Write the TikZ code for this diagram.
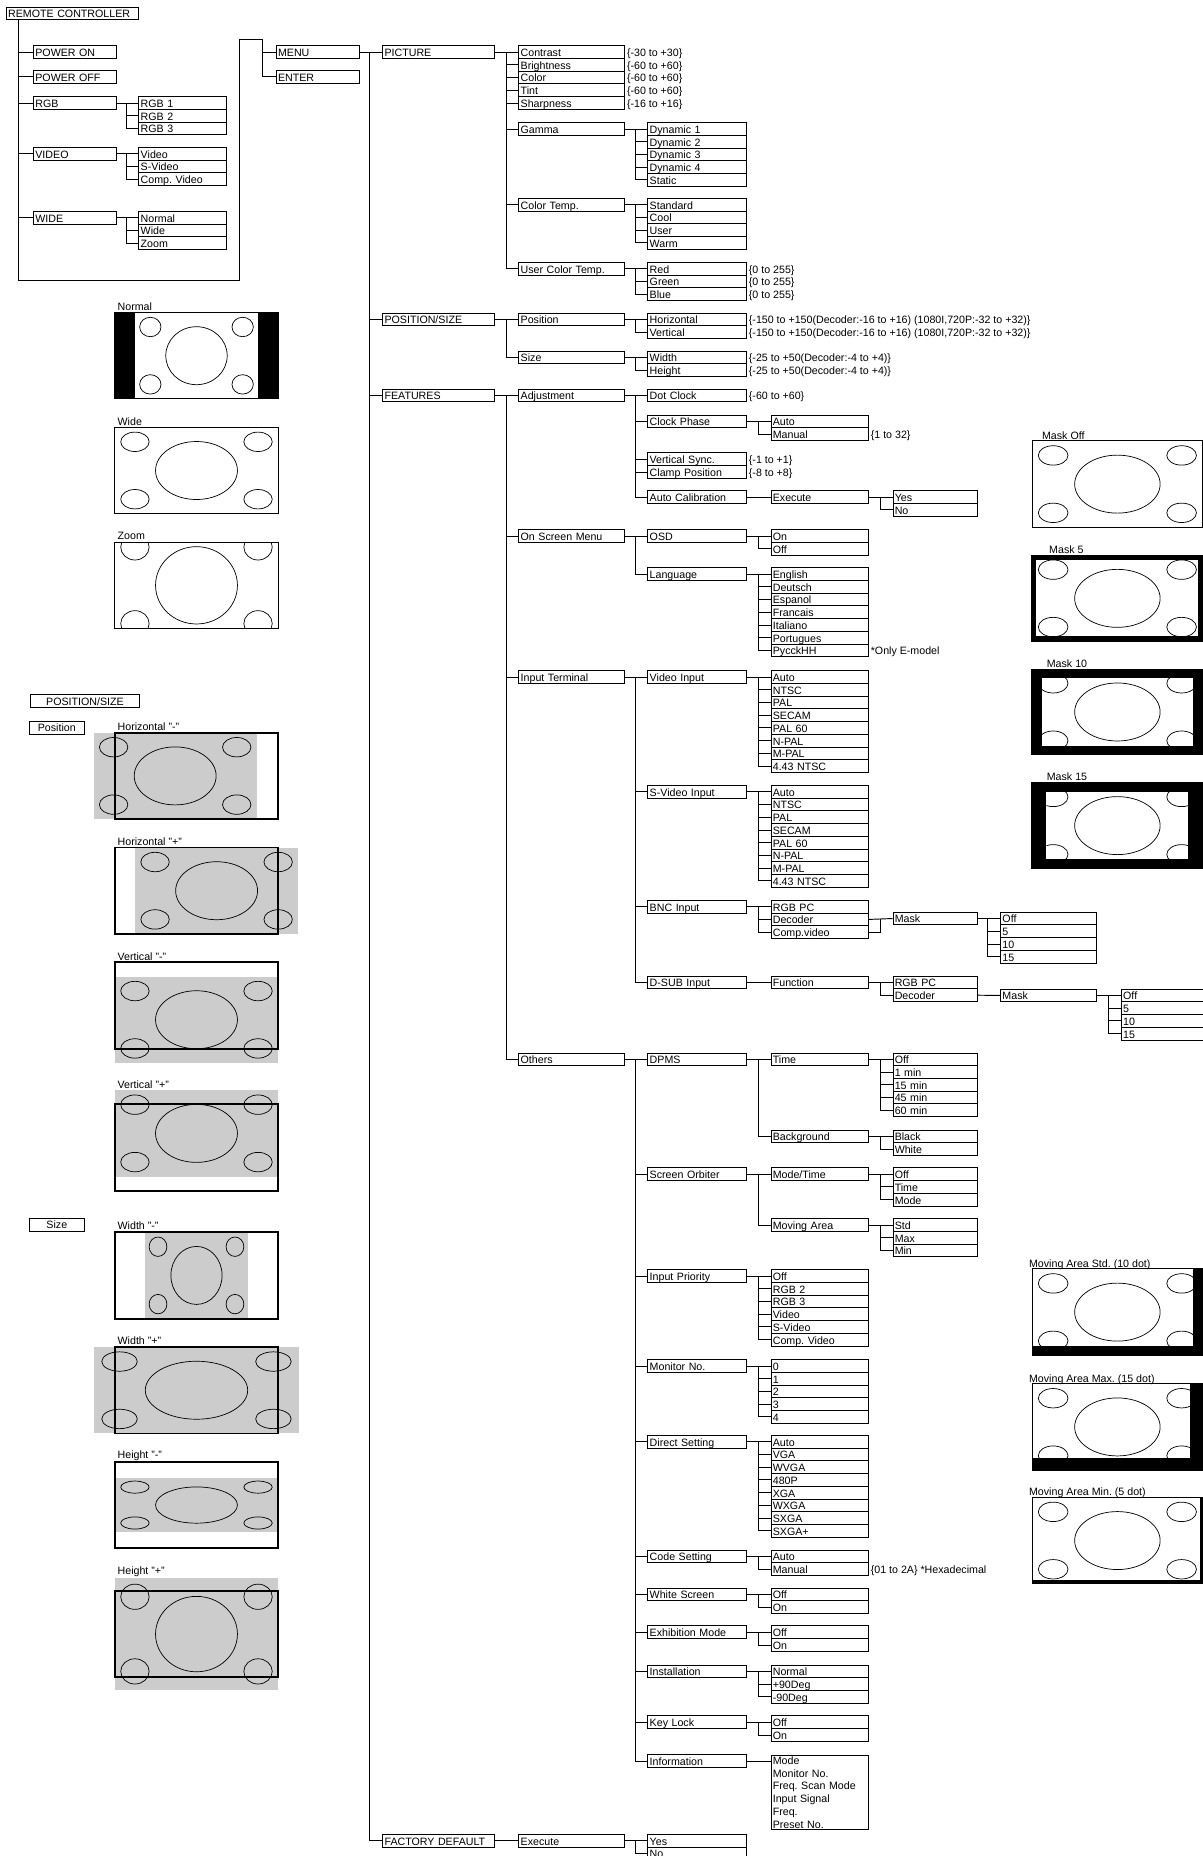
\documentclass[tikz,border=0pt]{standalone}
\usepackage{fontspec}
\setmainfont{Liberation Sans}
\usetikzlibrary{calc}
\frenchspacing

% a column of option boxes, one under the other
\newcommand\optlist[5]{% #1 prefix, #2 column style, #3 x, #4 y of first row, #5 items
  \foreach \lbl [count=\nn] in {#5}
    \node[#2] (#1-\nn) at (#3, {#4+(\nn-1)*10.75}) {\lbl};
}
% parent -> numbered children #2-1 ... #2-#3
\newcommand\forkn[3]{%
  \draw (#1.east) -- (#2-1.west);
  \draw ([xshift=-10.5pt]#2-1.west) -- ([xshift=-10.5pt]#2-#3.west);
  \foreach \kk in {2,...,#3} \draw (#2-\kk.west) -- ++(-10.5,0);
}
% parent -> named children
\newcommand\fork[2]{%
  \foreach \ch [count=\nn] in {#2} {%
    \ifnum\nn=1 \draw (#1.east) -- (\ch.west); \xdef\forktop{\ch}\fi
    \draw (\ch.west) -- ++(-10.5,0);
    \xdef\forkend{\ch}%
  }%
  \draw ([xshift=-10.5pt]\forktop.west) -- ([xshift=-10.5pt]\forkend.west);
}
% test picture: four small ellipses and a big one round (0,0)
\newcommand\faces{%
  \draw[facelines] (0,0) ellipse [x radius=34.6, y radius=24.5];
  \foreach \sx/\sy in {-52/-24.25,52/-24.25,-52/24.25,52/24.25}
    \draw[facelines] (\sx,\sy) ellipse [x radius=12, y radius=8.2];
}
\newcommand\posshot[5]{% #1 frame top, #2 dx, #3 dy, #4 xscale, #5 yscale
  \begin{scope}[shift={({166+(#2)},{#1+36.5+(#3)})}, xscale=#4, yscale=#5]
    \fill[grayarea] (-69,-36.5) rectangle (69,36.5);
    \faces
  \end{scope}
  \draw[boldframe] (97,#1) rectangle (235,#1+73);
}
\newcommand\maskshot[3]{% #1 frame top, #2 side border, #3 top/bottom border
  \fill (871,#1) rectangle (1017,#1+73);
  \fill[white] (871+#2,#1+#3) rectangle (1017-#2,#1+73-#3);
  \begin{scope}
    \clip (871+#2,#1+#3) rectangle (1017-#2,#1+73-#3);
    \begin{scope}[shift={(944,#1+36.5)}, xscale=1.0435] \faces \end{scope}
  \end{scope}
}
\newcommand\moveshot[3]{% #1 frame top, #2 right strip x, #3 bottom strip y
  \begin{scope}[shift={(944,#1+36.5)}, xscale=1.0435] \faces \end{scope}
  \fill (#2,#1) rectangle (1017,#1+73);
  \fill (872,#3) rectangle (1017,#1+73);
  \draw[thinframe] (872,#1) rectangle (1016,#1+73);
}

\begin{document}
\begin{tikzpicture}[x=1pt, y=-1pt, line width=0.8pt,
    every node/.style={font=\fontsize{9}{10.8}\selectfont},
    opt/.style={draw, anchor=west, minimum height=10.75pt, inner xsep=1.5pt, inner ysep=0pt,
      text height=8pt, text depth=0.6pt, align=left, text width=#1},
    opt/.default=86pt,
    colR/.style={opt=67pt}, colRs/.style={opt=71pt},
    col1/.style={opt=91pt}, col2/.style={opt=86pt}, col3/.style={opt=80pt},
    col4/.style={opt=79pt}, col5/.style={opt=68pt}, col6/.style={opt=78pt}, col7/.style={opt=68pt},
    note/.style={anchor=west, inner xsep=1.5pt, inner ysep=0pt, text height=8pt, text depth=0.6pt},
    tag/.style={draw, line width=0.6pt, inner sep=0pt, minimum height=11pt, text height=8pt, text depth=0.6pt},
    shotlabel/.style={anchor=base west, inner sep=0pt},
    facelines/.style={line width=0.6pt},
    thinframe/.style={line width=0.8pt},
    boldframe/.style={line width=1.5pt},
    grayarea/.style={fill=black!20}]

    \useasboundingbox (0,0) rectangle (1016,1568);

    % Remote controller keys
    \node[opt=109pt] (remote) at (5,11.5) {REMOTE CONTROLLER};
    \foreach \nm/\yy/\lbl in {pwron/44/POWER ON, pwroff/65/POWER OFF, rgb/87/RGB, video/130/VIDEO, wide/184/WIDE}
        \node[colR] (\nm) at (28,\yy) {\lbl};
    \optlist{rgb}{colRs}{117}{87}{RGB 1,RGB 2,RGB 3}
    \optlist{video}{colRs}{117}{130}{Video,S-Video,Comp. Video}
    \optlist{wide}{colRs}{117}{184}{Normal,Wide,Zoom}
    \forkn{rgb}{rgb}{3}
    \forkn{video}{video}{3}
    \forkn{wide}{wide}{3}

    \coordinate (rbend) at (202,237);
    \draw ([xshift=11pt]remote.south west) |- (rbend);
    \foreach \nm in {pwron,pwroff,rgb,video,wide}
        \draw (\nm.west) -- ++(-12,0);

    \node[colR] (menu) at (233,44) {MENU};
    \node[colR] (enter) at (233,65) {ENTER};
    \draw (rbend) |- ([xshift=-11pt,yshift=11pt]menu.west) -- ([xshift=-11pt]enter.west) -- (enter.west);
    \draw ([xshift=-11pt]menu.west) -- (menu.west);

    % Main menu
    \node[col1] (picture) at (323,44) {PICTURE};
    \node[col1] (possize) at (323,270) {POSITION/SIZE};
    \node[col1] (features) at (323,334) {FEATURES};
    \node[col1] (factory) at (323,1555) {FACTORY DEFAULT};
    \fork{menu}{picture,possize,features,factory}

    % PICTURE
    \optlist{pic}{col2}{438}{44}{Contrast,Brightness,Color,Tint,Sharpness}
    \foreach \i/\r in {1/{-30 to +30},2/{-60 to +60},3/{-60 to +60},4/{-60 to +60},5/{-16 to +16}}
        \node[note] (pic-\i-r) at (pic-\i.east) {\{\r\}};
    \node[col2] (gamma) at (438,109) {Gamma};
    \node[col2] (ctemp) at (438,173) {Color Temp.};
    \node[col2] (uctemp) at (438,227) {User Color Temp.};
    \fork{picture}{pic-1,pic-2,pic-3,pic-4,pic-5,gamma,ctemp,uctemp}
    \optlist{gam}{col3}{547}{109}{Dynamic 1,Dynamic 2,Dynamic 3,Dynamic 4,Static}
    \forkn{gamma}{gam}{5}
    \optlist{ct}{col3}{547}{173}{Standard,Cool,User,Warm}
    \forkn{ctemp}{ct}{4}
    \optlist{uct}{col3}{547}{227}{Red,Green,Blue}
    \forkn{uctemp}{uct}{3}
    \foreach \i in {1,2,3}
        \node[note] (uct-\i-r) at (uct-\i.east) {\{0 to 255\}};

    % POSITION/SIZE
    \node[col2] (posn) at (438,270) {Position};
    \node[col2] (size) at (438,302) {Size};
    \fork{possize}{posn,size}
    \optlist{pos}{col3}{547}{270}{Horizontal,Vertical}
    \forkn{posn}{pos}{2}
    \optlist{siz}{col3}{547}{302}{Width,Height}
    \forkn{size}{siz}{2}
    \foreach \i in {1,2} {
        \node[note] (pos-\i-r) at (pos-\i.east) {\{-150 to +150(Decoder:-16 to +16) (1080I,720P:-32 to +32)\}};
        \node[note] (siz-\i-r) at (siz-\i.east) {\{-25 to +50(Decoder:-4 to +4)\}};
    }

    % FEATURES
    \foreach \nm/\yy/\lbl in {adjust/334/Adjustment, osm/453/On Screen Menu, interm/572/Input Terminal, others/895/Others}
        \node[col2] (\nm) at (438,\yy) {\lbl};
    \fork{features}{adjust,osm,interm,others}

    % Adjustment
    \foreach \nm/\yy/\lbl in {dotclk/334/Dot Clock, clkph/356/Clock Phase, vsync/388/Vertical Sync., clamp/399/Clamp Position, autocal/420/Auto Calibration}
        \node[col3] (\nm) at (547,\yy) {\lbl};
    \fork{adjust}{dotclk,clkph,vsync,clamp,autocal}
    \foreach \nm/\r in {dotclk/{-60 to +60},vsync/{-1 to +1},clamp/{-8 to +8}}
        \node[note] (\nm-r) at (\nm.east) {\{\r\}};
    \optlist{ph}{col4}{651}{356}{Auto,Manual}
    \forkn{clkph}{ph}{2}
    \node[note] (ph-2-r) at (ph-2.east) {\{1 to 32\}};
    \node[col4] (exec) at (651,420) {Execute};
    \draw (autocal.east) -- (exec.west);
    \optlist{yn}{col5}{754}{420}{Yes,No}
    \forkn{exec}{yn}{2}

    % On Screen Menu
    \node[col3] (osd) at (547,453) {OSD};
    \node[col3] (lang) at (547,485) {Language};
    \fork{osm}{osd,lang}
    \optlist{osd}{col4}{651}{453}{On,Off}
    \forkn{osd}{osd}{2}
    \optlist{lng}{col4}{651}{485}{English,Deutsch,Espanol,Francais,Italiano,Portugues,PycckHH}
    \forkn{lang}{lng}{7}
    \node[note] (lng-7-r) at (lng-7.east) {*Only E-model};

    % Input Terminal
    \foreach \nm/\yy/\lbl in {vidin/572/Video Input, svidin/669/S-Video Input, bncin/766/BNC Input, dsubin/830/D-SUB Input}
        \node[col3] (\nm) at (547,\yy) {\lbl};
    \fork{interm}{vidin,svidin,bncin,dsubin}
    \optlist{vin}{col4}{651}{572}{Auto,NTSC,PAL,SECAM,PAL 60,N-PAL,M-PAL,4.43 NTSC}
    \forkn{vidin}{vin}{8}
    \optlist{svin}{col4}{651}{669}{Auto,NTSC,PAL,SECAM,PAL 60,N-PAL,M-PAL,4.43 NTSC}
    \forkn{svidin}{svin}{8}
    \optlist{bnc}{col4}{651}{766}{RGB PC,Decoder,Comp.video}
    \forkn{bncin}{bnc}{3}
    \node[col5] (bmask) at (754,776) {Mask};
    \draw (bnc-2.east) -- (bmask.west);
    \draw (bnc-3.east) -| ([xshift=-10.5pt]bmask.west);
    \optlist{bm}{col6}{845}{776}{Off,5,10,15}
    \forkn{bmask}{bm}{4}
    \node[col4] (func) at (651,830) {Function};
    \draw (dsubin.east) -- (func.west);
    \optlist{fn}{col5}{754}{830}{RGB PC,Decoder}
    \forkn{func}{fn}{2}
    \node[col6] (dmask) at (845,841) {Mask};
    \draw (fn-2.east) -- (dmask.west);
    \optlist{dm}{col7}{947}{841}{Off,5,10,15}
    \forkn{dmask}{dm}{4}

    % Others
    \foreach \nm/\yy/\lbl in {dpms/895/DPMS, orbit/992/Screen Orbiter, inprio/1078/Input Priority, monno/1154/Monitor No., direct/1218/Direct Setting, code/1315/Code Setting, wscreen/1347/White Screen, exhib/1379/Exhibition Mode, install/1412/Installation, keylock/1455/Key Lock, info/1488/Information}
        \node[col3] (\nm) at (547,\yy) {\lbl};
    \fork{others}{dpms,orbit,inprio,monno,direct,code,wscreen,exhib,install,keylock,info}
    \node[col4] (dptime) at (651,895) {Time};
    \node[col4] (dpbg) at (651,960) {Background};
    \fork{dpms}{dptime,dpbg}
    \optlist{tim}{col5}{754}{895}{Off,1 min,15 min,45 min,60 min}
    \forkn{dptime}{tim}{5}
    \optlist{bg}{col5}{754}{960}{Black,White}
    \forkn{dpbg}{bg}{2}
    \node[col4] (modetime) at (651,992) {Mode/Time};
    \node[col4] (movarea) at (651,1035) {Moving Area};
    \fork{orbit}{modetime,movarea}
    \optlist{mt}{col5}{754}{992}{Off,Time,Mode}
    \forkn{modetime}{mt}{3}
    \optlist{ma}{col5}{754}{1035}{Std,Max,Min}
    \forkn{movarea}{ma}{3}
    \optlist{prio}{col4}{651}{1078}{Off,RGB 2,RGB 3,Video,S-Video,Comp. Video}
    \forkn{inprio}{prio}{6}
    \optlist{mon}{col4}{651}{1154}{0,1,2,3,4}
    \forkn{monno}{mon}{5}
    \optlist{dir}{col4}{651}{1218}{Auto,VGA,WVGA,480P,XGA,WXGA,SXGA,SXGA+}
    \forkn{direct}{dir}{8}
    \optlist{cod}{col4}{651}{1315}{Auto,Manual}
    \forkn{code}{cod}{2}
    \node[note] (cod-2-r) at (cod-2.east) {\{01 to 2A\} *Hexadecimal};
    \optlist{wht}{col4}{651}{1347}{Off,On}
    \forkn{wscreen}{wht}{2}
    \optlist{exh}{col4}{651}{1379}{Off,On}
    \forkn{exhib}{exh}{2}
    \optlist{ins}{col4}{651}{1412}{Normal,+90Deg,-90Deg}
    \forkn{install}{ins}{3}
    \optlist{key}{col4}{651}{1455}{Off,On}
    \forkn{keylock}{key}{2}
    \node[draw, anchor=north west, text width=79pt, inner xsep=1.5pt, inner ysep=1pt, align=left]
        (infobox) at (651,1482.6) {Mode\\Monitor No.\\Freq. Scan Mode\\Input Signal\\Freq.\\Preset No.};
    \draw (info.east) -- (info.east -| infobox.west);

    % FACTORY DEFAULT
    \node[col2] (fexec) at (438,1555) {Execute};
    \draw (factory.east) -- (fexec.west);
    \optlist{fyn}{col3}{547}{1555}{Yes,No}
    \forkn{fexec}{fyn}{2}

    % Wide mode screens
    \begin{scope}[shift={(166,300.5)}]
        \fill (-69,-36.5) rectangle (69,36.5);
        \fill[white] (-51.75,-36.5) rectangle (51.75,36.5);
        \begin{scope}[xscale=.75] \faces \end{scope}
        \draw[thinframe] (-69,-36.5) rectangle (69,36.5);
    \end{scope}
    \begin{scope}[shift={(166,397.5)}]
        \faces
        \draw[thinframe] (-69,-36.5) rectangle (69,36.5);
    \end{scope}
    \begin{scope}[shift={(166,494.5)}]
        \begin{scope}
            \clip (-69,-36.5) rectangle (69,36.5);
            \begin{scope}[yscale=1.333] \faces \end{scope}
        \end{scope}
        \draw[thinframe] (-69,-36.5) rectangle (69,36.5);
    \end{scope}
    \foreach \nm/\yy/\lbl in {lnormal/262.2/Normal, lwide/359.2/Wide, lzoom/455.5/Zoom}
        \node[shotlabel] (\nm) at (99,\yy) {\lbl};

    % POSITION/SIZE screens
    \node[tag, minimum width=91.5pt] (psbox) at (71.75,592.5) {POSITION/SIZE};
    \node[tag, minimum width=46pt] (posbox) at (48,614.5) {Position};
    \node[tag, minimum width=46pt] (sizebox) at (48,1034.5) {Size};
    \posshot{619}{-18}{0}{1}{1}
    \posshot{716}{17}{0}{1}{1}
    \posshot{813}{0}{12}{1}{1}
    \posshot{933}{0}{-12}{1}{1}
    \posshot{1041}{0}{0}{.625}{1}
    \posshot{1138}{0}{0}{1.25}{1}
    \posshot{1235}{0}{0}{1}{.625}
    \posshot{1344}{0}{0}{1}{1.3}
    \foreach \nm/\yy/\lbl in {lhm/617.5/{Horizontal "-"}, lhp/714.5/{Horizontal "+"}, lvm/811.5/{Vertical "-"}, lvp/919.5/{Vertical "+"}, lwm/1038.5/{Width "-"}, lwp/1135.5/{Width "+"}, lhtm/1232.5/{Height "-"}, lhtp/1330/{Height "+"}}
        \node[shotlabel] (\nm) at (99,\yy) {\lbl};

    % Mask screens
    \begin{scope}[shift={(944,409)}, xscale=1.0435] \faces \end{scope}
    \draw[thinframe] (872,372.5) rectangle (1016,445.5);
    \maskshot{469}{4.5}{4.5}
    \maskshot{565}{9}{7.5}
    \maskshot{661}{13}{8}
    \foreach \nm/\xx/\yy/\lbl in {lmoff/880/371.2/Mask Off, lm5/886/467.5/Mask 5, lm10/884/563.5/Mask 10, lm15/884/659.5/Mask 15}
        \node[shotlabel] (\nm) at (\xx,\yy) {\lbl};

    % Moving area screens
    \moveshot{1072}{1008}{1137.5}
    \moveshot{1169}{1005}{1231.5}
    \moveshot{1265}{1014}{1335}
    \foreach \nm/\yy/\lbl in {lstd/1070.8/Moving Area Std. (10 dot), lmax/1167.8/Moving Area Max. (15 dot), lmin/1263.8/Moving Area Min. (5 dot)}
        \node[shotlabel] (\nm) at (869,\yy) {\lbl};
\end{tikzpicture}
\end{document}
